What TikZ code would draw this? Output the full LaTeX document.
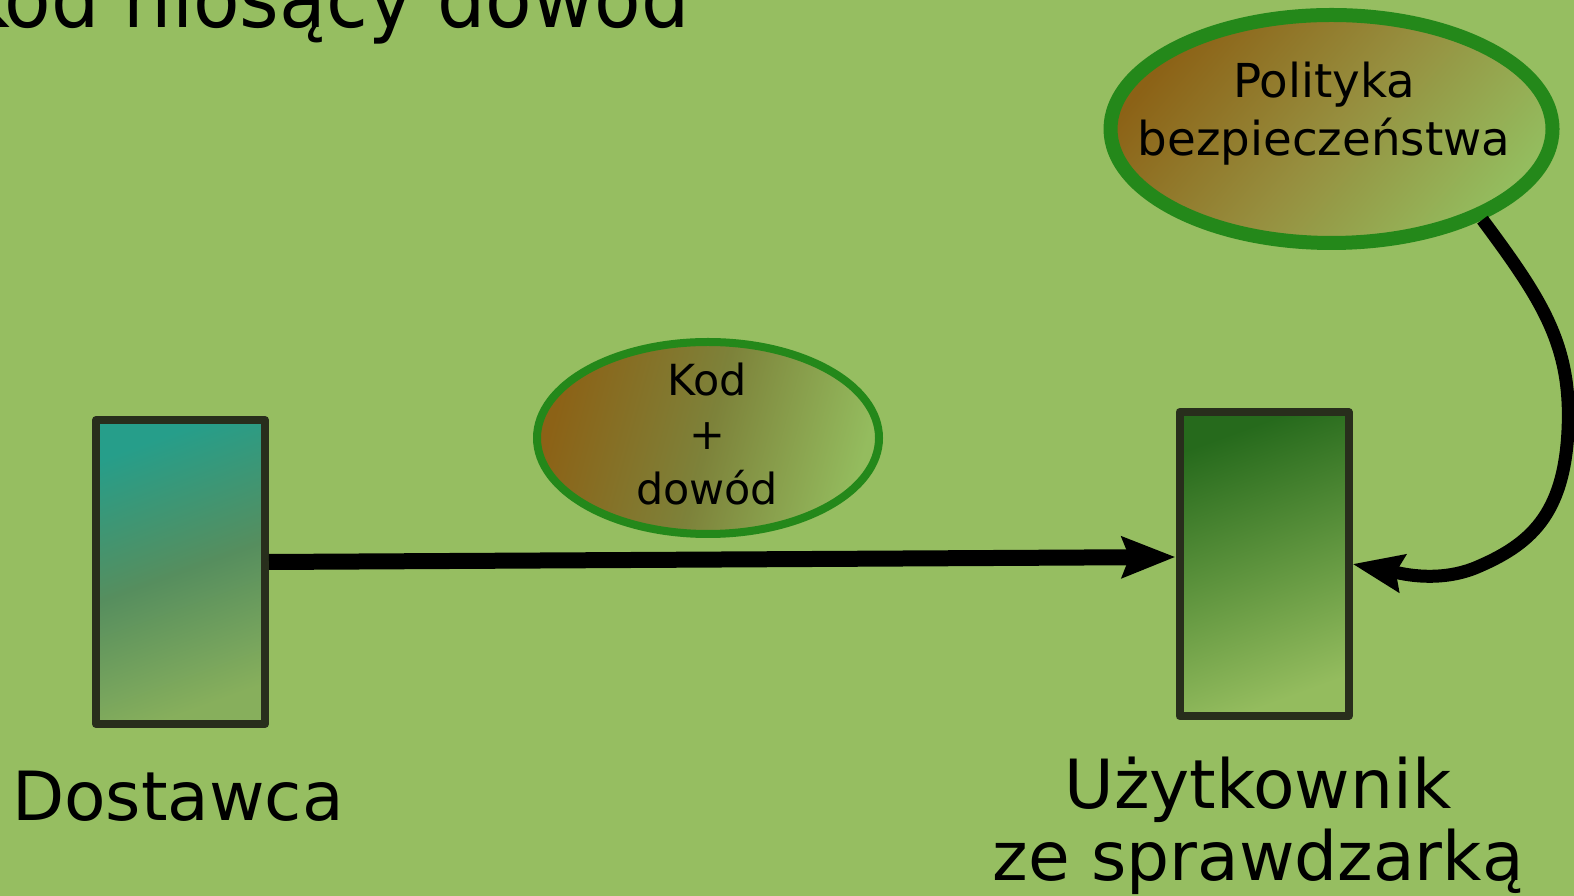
\documentclass[tikz,border=0pt]{standalone}
\usepackage{fontspec}
\setmainfont{DejaVu Sans}
\newfontfamily\titlefont[FakeStretch=0.95]{DejaVu Sans}
\usetikzlibrary{arrows.meta,shapes.geometric}

\definecolor{bg}{RGB}{150,190,97}
\definecolor{ring}{RGB}{36,136,26}
\definecolor{boxline}{RGB}{40,46,28}
\definecolor{tealtop}{RGB}{38,158,138}
\definecolor{tealmid}{RGB}{86,142,94}
\definecolor{tealend}{RGB}{135,175,92}
\definecolor{pale}{RGB}{148,188,94}
\definecolor{darkgreen}{RGB}{38,106,28}
\definecolor{brownish}{RGB}{140,98,22}
\definecolor{olive}{RGB}{125,130,58}
\definecolor{olive2}{RGB}{150,142,62}

\tikzset{
  box/.style={rectangle, draw=boxline, line width=0.08cm, line join=round,
    inner sep=0pt, minimum width=1.69cm, minimum height=3.04cm},
  bubble/.style={ellipse, draw=ring, inner sep=0pt},
  caption/.style={font=\fontsize{19.3}{20.6}\selectfont, align=center, inner sep=0pt},
  conn/.style={draw=black, line width=0.16cm},
}

\begin{document}
\begin{tikzpicture}[x=1cm,y=1cm]
\useasboundingbox (0,0) rectangle (15.74,-8.96);
\fill[bg] (0,0) rectangle (15.74,-8.96);
\clip (0,0) rectangle (15.74,-8.96);

% heading, cut by the top edge
\node[anchor=base east, inner sep=0pt, font=\titlefont\fontsize{22.8}{24}\selectfont]
  (title) at (6.90,-0.28) {Kod niosący dowód};

% the two parties
\node[box, top color=tealtop, bottom color=tealend, middle color=tealmid, shading angle=20]
  (sup) at (1.805,-5.72) {};
\node[box, top color=darkgreen, bottom color=pale, shading angle=20]
  (user) at (12.64,-5.64) {};

\node[caption, anchor=base] (supname) at (1.78,-8.20) {Dostawca};
\node[caption] (username) at (12.58,-8.26) {Użytkownik\\ze sprawdzarką};

% code + proof bubble
\node[bubble, line width=0.08cm, minimum width=3.42cm, minimum height=1.92cm,
  top color=brownish, bottom color=pale, middle color=olive, shading angle=75]
  (kod) at (7.08,-4.38) {};
\node[font=\fontsize{12.2}{15.4}\selectfont, align=center, inner sep=0pt]
  (kodtext) at (7.07,-4.34) {Kod\\+\\dowód};

% security policy bubble
\node[bubble, line width=0.14cm, minimum width=4.42cm, minimum height=2.28cm,
  top color=brownish, bottom color=pale, middle color=olive2, shading angle=50]
  (pol) at (13.315,-1.29) {};
\node[font=\fontsize{13.3}{16.5}\selectfont, align=center, inner sep=0pt]
  (poltext) at (13.24,-1.14) {Polityka\\bezpieczeństwa};

% connectors
\draw[conn, -{Stealth[length=0.53cm,width=0.40cm,inset=0.07cm]}]
  ([yshift=0.1cm]sup.east) -- ([yshift=0.07cm]user.west);
\draw[conn, line width=0.13cm, -{Stealth[length=0.5cm,width=0.37cm,inset=0.06cm]}]
  (pol.-31) .. controls (15.42,-3.0) and (15.72,-3.45) .. (15.68,-4.3)
  .. controls (15.64,-5.15) and (15.3,-5.45) .. (14.75,-5.68)
  .. controls (14.35,-5.84) and (13.95,-5.72) .. (user.east);
\end{tikzpicture}
\end{document}
